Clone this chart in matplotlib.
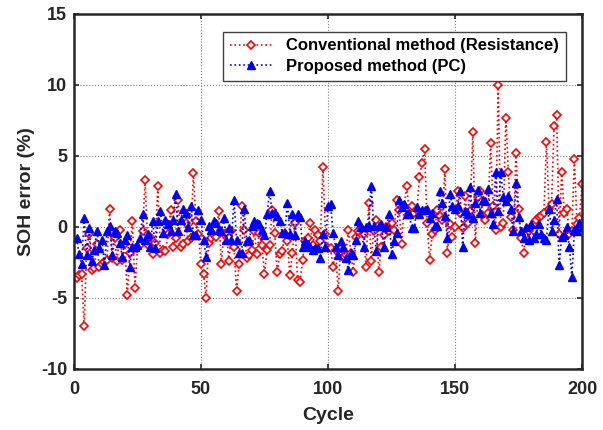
import matplotlib.pyplot as plt

plt.rcParams['font.family'] = ['Liberation Sans', 'DejaVu Sans']
plt.rcParams['font.weight'] = 'bold'
plt.rcParams['axes.unicode_minus'] = False

cycles = list(range(1, 201))

# SOH error of the conventional (resistance-based) method, %
conventional = [
    -3.6, -3.4, -3.3, -7.0, -1.5, -0.5, -3.0, -2.9, -1.2, -2.8,
    -2.6, -2.5, -2.3, 1.3, -2.2, -0.8, -2.4, -0.2, -2.3, -1.2,
    -4.8, -1.8, 0.4, -4.3, -1.5, -1.3, -0.3, 3.3, -1.3, -0.7,
    -1.9, -1.1, 2.9, -1.8, -1.6, -1.7, -0.5, 1.2, -1.4, -0.8,
    1.9, -1.4, -1.2, 0.3, -1.0, -0.8, 3.8, 0.4, -0.5, -2.6,
    -3.3, -5.0, -1.1, -0.8, -0.6, -0.7, 1.1, -2.6, -0.5, -0.4,
    -2.4, -0.3, -1.4, -4.5, -2.6, 1.5, -0.2, -2.2, -2.0, -1.6,
    -0.3, -1.9, -0.4, -1.3, -3.3, -1.6, -1.3, 1.2, -0.4, -3.2,
    -1.9, -1.7, -0.5, -1.0, -3.4, -1.8, 0.3, -3.7, -3.9, -2.3,
    -1.0, -0.8, 0.3, -1.3, -0.2, -0.6, -1.0, 4.2, -0.5, -1.5,
    -1.5, -2.8, -1.6, -4.5, -1.5, -2.1, -2.0, -0.2, -1.8, -3.2,
    -0.7, -0.3, -0.1, -0.5, -2.8, 1.7, -2.4, -0.3, 0.5, -3.2,
    -1.4, -0.6, 0.0, -0.3, 0.3, -0.2, 1.9, 1.2, -1.2, 1.5,
    2.9, 0.9, 1.5, 1.0, 1.2, 3.5, 4.5, 5.5, 0.3, -2.3,
    -0.5, -0.2, 1.2, 0.8, 0.5, 4.1, -1.8, 0.2, -0.7, 0.0,
    2.5, 1.0, -0.1, 2.2, 0.3, 1.1, 6.7, -1.1, 2.1, 2.5,
    0.8, 0.5, 1.0, 5.9, 1.5, -0.2, 10.0, 0.0, 0.3, 7.7,
    3.9, 0.7, -0.2, 5.2, 1.3, -0.8, -1.8, -0.5, -0.3, 0.0,
    0.2, 0.5, 0.7, 0.8, 1.0, 6.0, 1.3, 1.6, 7.1, 7.9,
    -0.5, 3.9, 1.0, 1.3, -0.5, -0.3, 4.8, 0.2, 0.6, 3.0,
]

# SOH error of the proposed method (PC), %
proposed = [
    -0.8, -1.9, -2.6, 0.6, -2.0, -0.1, -2.4, -1.6, -0.3, -1.5,
    -0.9, -2.7, -0.3, 0.1, -2.0, -0.3, -0.4, -1.1, -2.1, -0.9,
    -0.6, -2.8, -1.4, -1.4, -1.3, -0.8, 0.9, -0.9, -0.5, -1.4,
    0.4, -1.5, 0.4, 1.1, -0.4, 0.5, 0.2, -0.3, 0.5, 2.3,
    -0.3, 0.5, 1.3, 1.0, 0.0, 1.5, -0.6, -0.6, 1.2, 0.5,
    -0.9, -2.1, 0.1, -0.2, 0.4, 0.3, -0.2, -0.3, 0.6, -0.9,
    -0.1, -0.9, 1.9, -0.9, -1.8, -1.8, 1.3, -1.0, -0.9, 0.1,
    0.4, 0.3, 0.2, -0.2, -0.6, 0.9, 2.5, 1.0, 1.0, 0.8,
    0.4, -0.4, -0.4, 1.7, -0.5, 0.9, -0.6, 0.9, 0.7, -1.4,
    -1.0, -1.2, -1.4, -1.6, -1.5, -1.5, -2.2, -0.5, -1.4, 1.5,
    1.6, -0.4, -1.4, -2.0, -1.0, -1.4, -2.2, -3.0, -1.8, -2.0,
    -0.9, 0.4, 0.0, -1.4, 0.0, 0.1, 2.9, 0.1, -1.7, 0.1,
    0.2, -1.4, 0.0, 0.9, -1.9, -1.0, -0.4, 1.9, 1.4, 1.6,
    0.9, 0.9, -0.1, -0.1, 1.4, 0.9, 1.2, 1.2, 1.3, 0.6,
    1.0, 0.1, 0.1, 2.5, 1.7, 0.8, -0.8, 2.3, 1.5, 1.3,
    1.5, 2.5, -1.4, 1.1, 0.9, 2.8, 0.6, 1.7, 2.6, 1.0,
    1.9, 1.8, 2.7, 1.0, 0.2, 3.9, 1.1, 3.9, 2.1, 1.8,
    2.2, 1.3, -0.3, 3.1, 0.7, -0.3, -0.8, 0.0, -0.9, 0.2,
    -0.8, -0.5, 0.2, -0.5, -0.8, -0.9, 1.3, -0.3, 0.5, 2.0,
    -2.7, -0.7, -0.6, 0.0, -1.4, -3.5, -0.2, -0.3, 0.3, 0.0,
]

text_color = '#262626'

fig = plt.figure(figsize=(6.03, 4.30), dpi=100)
ax = fig.add_axes([0.1227, 0.1419, 0.8425, 0.8256])

ax.plot(cycles, conventional, linestyle=':', color='red', linewidth=1.2,
        marker='D', markersize=4, markerfacecolor='white', markeredgecolor='red',
        markeredgewidth=1.2, label='Conventional method (Resistance)')
ax.plot(cycles, proposed, linestyle=':', color='blue', linewidth=1.2,
        marker='^', markersize=5.5, markerfacecolor='blue', markeredgecolor='blue',
        label='Proposed method (PC)')

ax.set_xlim(0, 200)
ax.set_ylim(-10, 15)
ax.set_xticks([0, 50, 100, 150, 200])
ax.set_yticks([-10, -5, 0, 5, 10, 15])
ax.grid(True, linestyle=':', color='gray', linewidth=0.8)
ax.tick_params(direction='in', top=True, right=True, labelsize=13, width=1.2,
               length=3.5, colors=text_color)
ax.tick_params(axis='x', pad=9)
ax.tick_params(axis='y', pad=5)
for lab in ax.get_xticklabels() + ax.get_yticklabels():
    lab.set_fontweight('bold')
for sp in ax.spines.values():
    sp.set_linewidth(1.8)
    sp.set_color(text_color)

ax.set_xlabel('Cycle', fontsize=14, fontweight='bold', labelpad=6, color=text_color)
ax.set_ylabel('SOH error (%)', fontsize=14, fontweight='bold', labelpad=4, color=text_color)

leg = ax.legend(loc='upper right', bbox_to_anchor=(0.9685, 0.95), borderaxespad=0,
                fancybox=False, prop={'size': 12, 'weight': 'bold'}, handlelength=2.6,
                borderpad=0.4, labelspacing=0.35, framealpha=1)
leg.get_frame().set_edgecolor('#404040')
leg.get_frame().set_linewidth(1.0)

fig.savefig('out.png', dpi=100)
